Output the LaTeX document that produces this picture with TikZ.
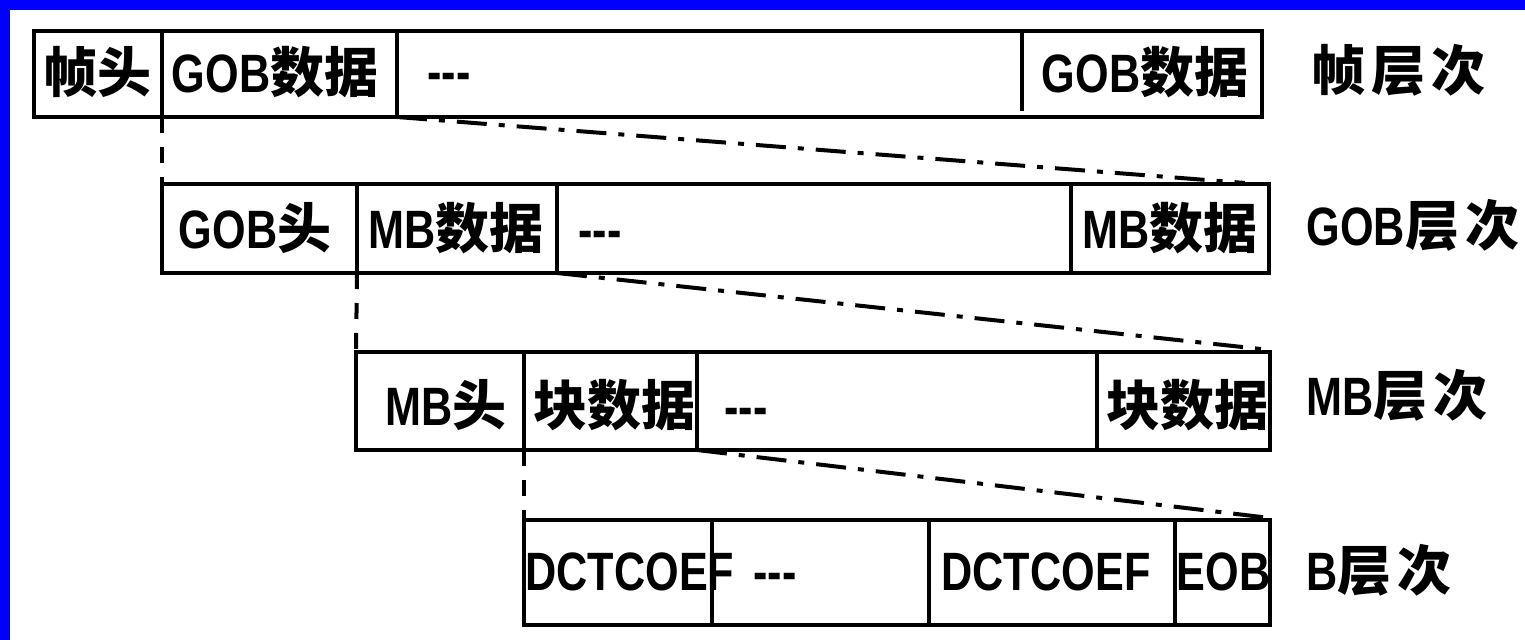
\documentclass[tikz,border=0pt]{standalone}
\usepackage{fontspec}
\newfontfamily\cjk{Noto Sans CJK SC}
\newfontfamily\lat{Liberation Sans}[FakeStretch=0.8]
\begin{document}
\begin{tikzpicture}[x=0.5pt,y=-0.5pt,line width=1.6pt,
  txt/.style={font=\cjk\bfseries\fontsize{27}{27}\selectfont,inner sep=0pt},
  vdash/.style={dash pattern=on 8pt off 7pt,line width=2pt},
  ddash/.style={dash pattern=on 15pt off 6pt on 3pt off 6pt,line width=2pt}]
\useasboundingbox (0,0) rectangle (1525,640);
\fill[blue] (0,0) rectangle (1525,10);
\fill[blue] (0,0) rectangle (10,640);
% Row 1
\draw (34,31) rectangle (1262,117);
\draw (162,31) -- (162,117) (397,31) -- (397,117) (1022,31) -- (1022,111);
\node[txt] (t11) at (97,72) {帧头};
\node[txt] (t12) at (275,72) {{\lat GOB}数据};
\node[txt] (t13) at (449,82) {{\lat -{}-{}-}};
\node[txt] (t14) at (1145,72) {{\lat GOB}数据};
\node[txt,anchor=west] (l1) at (1310,70) {帧\hspace{3pt}层\hspace{3pt}次};
\coordinate (a1) at (162,117);
\coordinate (a2) at (397,117);
% Row 2
\draw (162,184) rectangle (1269,273);
\draw (357,184) -- (357,273) (557,184) -- (557,273) (1071,184) -- (1071,273);
\node[txt] (t21) at (255,228) {{\lat GOB}头};
\node[txt] (t22) at (456,228) {{\lat MB}数据};
\node[txt] (t23) at (600,240) {{\lat -{}-{}-}};
\node[txt] (t24) at (1170,228) {{\lat MB}数据};
\node[txt,anchor=west] (l2) at (1305,225) {{\lat GOB}层\hspace{3pt}次};
\coordinate (b0) at (162,184);
\coordinate (b3) at (1245,183);
\coordinate (b1) at (357,273);
\coordinate (b2) at (557,273);
% Row 3
\draw (356,352) rectangle (1270,450);
\draw (524,352) -- (524,450) (697,352) -- (697,450) (1097,352) -- (1097,450);
\node[txt] (t31) at (446,405) {{\lat MB}头};
\node[txt] (t32) at (614,405) {块数据};
\node[txt] (t33) at (746,417) {{\lat -{}-{}-}};
\node[txt] (t34) at (1187,405) {块数据};
\node[txt,anchor=west] (l3) at (1305,395) {{\lat MB}层\hspace{3pt}次};
\coordinate (c0) at (356,352);
\coordinate (c3) at (1270,350);
\coordinate (c1) at (524,450);
\coordinate (c2) at (697,450);
% Row 4
\draw (524,520) rectangle (1270,625);
\draw (712,520) -- (712,625) (929,520) -- (929,625) (1175,520) -- (1175,625);
\node[txt,anchor=west] (t41) at (524,572) {{\lat DCTCOEF}};
\node[txt] (t42) at (775,582) {{\lat -{}-{}-}};
\node[txt,anchor=west] (t43) at (940,572) {{\lat DCTCOEF}};
\node[txt,anchor=west] (t44) at (1175,572) {{\lat EOB}};
\node[txt,anchor=west] (l4) at (1305,570) {{\lat B}层\hspace{3pt}次};
\coordinate (d0) at (524,520);
\coordinate (d3) at (1270,518);
% connectors
\draw[vdash] (a1) -- (b0);
\draw[ddash] (a2) -- (b3);
\draw[vdash] (b1) -- (c0);
\draw[ddash] (b2) -- (c3);
\draw[vdash] (c1) -- (d0);
\draw[ddash] (c2) -- (d3);
\end{tikzpicture}
\end{document}
